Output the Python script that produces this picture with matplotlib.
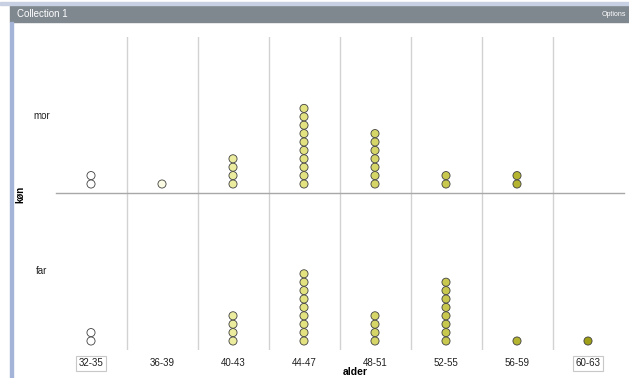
import matplotlib.pyplot as plt
from matplotlib.patches import Rectangle

plt.rcParams['font.family'] = ['Liberation Sans', 'DejaVu Sans']

# data: number of people per age group, split by "køn"
bins = ['32-35', '36-39', '40-43', '44-47', '48-51', '52-55', '56-59', '60-63']
mor_counts = [2, 1, 4, 10, 7, 2, 2, 0]
far_counts = [2, 0, 4, 9, 4, 8, 1, 1]
bin_colors = ['#ffffff', '#fbfbe4', '#ecec9e', '#e2e280', '#d6d668',
              '#c8c84e', '#b4b430', '#a0a018']

W, H = 629, 378
fig = plt.figure(figsize=(W / 100, H / 100), dpi=100)


def px_axes(x0, y0, x1, y1):
    # axes from pixel box (top-left origin)
    return fig.add_axes([x0 / W, (H - y1) / H, (x1 - x0) / W, (y1 - y0) / H])


# frame: title bar and left border
fig.patches.append(Rectangle((10 / W, (H - 22) / H), 1 - 10 / W, 17 / H,
                             transform=fig.transFigure, color='#7f878f', zorder=0))
fig.patches.append(Rectangle((0, (H - 5) / H), 1, 3 / H,
                             transform=fig.transFigure, color='#c8d0e4', zorder=0))
fig.patches.append(Rectangle((10 / W, 0), 3 / W, (H - 22) / H,
                             transform=fig.transFigure, color='#a4b4d8', zorder=0))
fig.text(17 / W, (H - 14) / H, 'Collection 1', color='white', fontsize=7, va='center')
fig.text(626 / W, (H - 14) / H, 'Options', color='white', fontsize=5, va='center', ha='right')

left, right = 55.5, 623.5
ax_mor = px_axes(left, 37, right, 193)
ax_far = px_axes(left, 193, right, 350)

step = 8.4
for ax, counts, top in [(ax_mor, mor_counts, 156), (ax_far, far_counts, 157)]:
    xs, ys, cs = [], [], []
    for i, n in enumerate(counts):
        for k in range(n):
            xs.append(i)
            ys.append(9 + step * k)
            cs.append(bin_colors[i])
    ax.scatter(xs, ys, s=34, c=cs, edgecolors='#404040', linewidths=0.6, zorder=3)
    for i in range(len(bins) - 1):
        ax.axvline(i + 0.5, color='#d2d2d2', lw=1, zorder=1)
    ax.set_xlim(-0.5, len(bins) - 0.5)
    ax.set_ylim(0, top)
    ax.set_yticks([])
    for s in ax.spines.values():
        s.set_visible(False)
    ax.patch.set_alpha(0)

ax_mor.set_xticks([])
ax_far.axhline(ax_far.get_ylim()[1], color='#a8a8a8', lw=1, zorder=2, clip_on=False)

ax_far.set_xticks(range(len(bins)))
ax_far.set_xticklabels(bins, fontsize=7, color='#202020')
ax_far.tick_params(axis='x', length=0, pad=6)
for j in (0, len(bins) - 1):
    ax_far.get_xticklabels()[j].set_bbox(dict(facecolor='white', edgecolor='#c8c8c8',
                                              boxstyle='square,pad=0.25', lw=0.8))

fig.text(42 / W, (H - 116) / H, 'mor', fontsize=7, ha='center', va='center', color='#202020')
fig.text(42 / W, (H - 271) / H, 'far', fontsize=7, ha='center', va='center', color='#202020')
fig.text(20 / W, (H - 194) / H, 'køn', fontsize=7, fontweight='bold', rotation=90,
         ha='center', va='center')
fig.text(355 / W, 1 / H, 'alder', fontsize=7.5, fontweight='bold',
         ha='center', va='bottom')

fig.savefig('out.png', dpi=100)
